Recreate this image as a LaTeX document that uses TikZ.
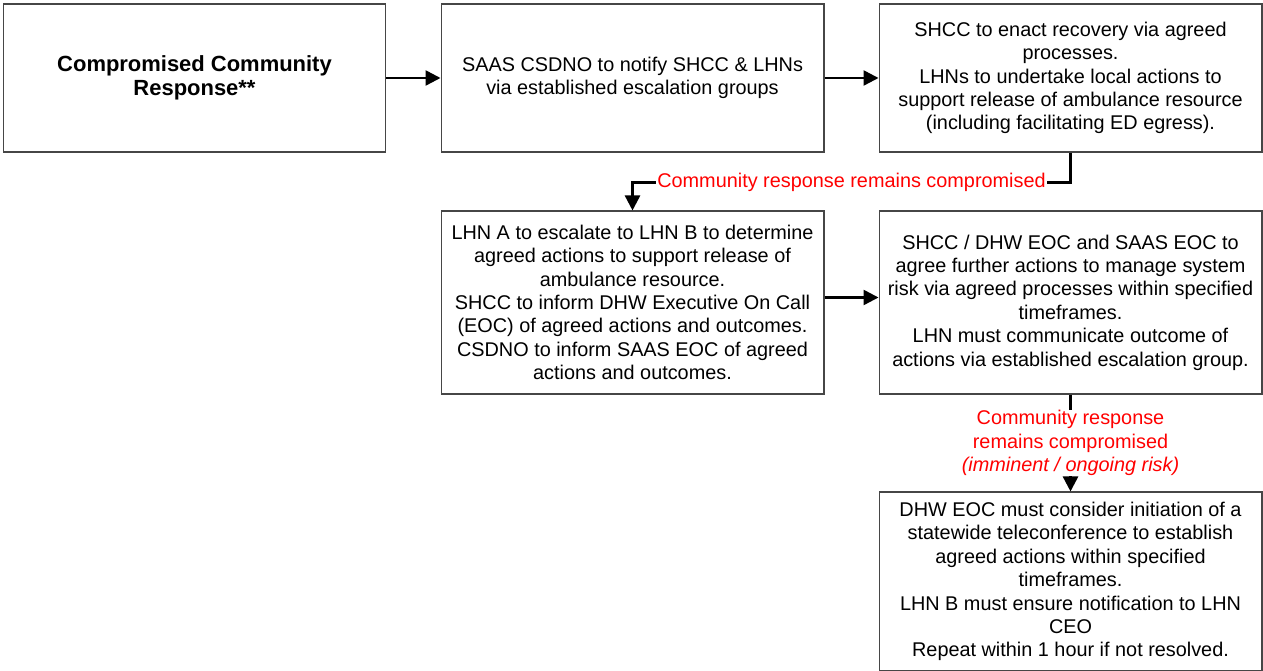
\documentclass[tikz,border=0pt]{standalone}
\usepackage{fontspec}
\setmainfont{Liberation Sans}
\usepackage{tikz}
\usetikzlibrary{arrows.meta}
\definecolor{boxgray}{RGB}{70,70,70}
\definecolor{alertred}{RGB}{255,0,0}

\begin{document}
\begin{tikzpicture}[x=0.02cm, y=-0.02cm,
    stepbox/.style={draw=boxgray, line width=0.6pt, minimum width=7.66cm, align=center,
                    font=\fontsize{11.3}{13.3}\selectfont},
    flow/.style={-{Triangle[length=0.3cm, width=0.3cm]}, line width=1.4pt, black},
    flowlabel/.style={fill=white, text=alertred, align=center, inner sep=1pt,
                      font=\fontsize{11.3}{13.3}\selectfont}]
    \useasboundingbox (0,0) rectangle (1263,671);

    % Top row
    \node[stepbox, minimum height=2.96cm, font=\bfseries\fontsize{12.5}{13.3}\selectfont] (compromised) at (194.5,78) {Compromised Community\\Response**};
    \node[stepbox, minimum height=2.96cm] (notify) at (632.5,78) {SAAS CSDNO to notify SHCC \& LHNs\\via established escalation groups};
    \node[stepbox, minimum height=2.96cm] (recovery) at (1070.5,78) {SHCC to enact recovery via agreed\\processes.\\LHNs to undertake local actions to\\support release of ambulance resource\\(including facilitating ED egress).};

    % Middle row
    \node[stepbox, minimum height=3.66cm] (escalate) at (632.5,302.5) {LHN A to escalate to LHN B to determine\\agreed actions to support release of\\ambulance resource.\\SHCC to inform DHW Executive On Call\\(EOC) of agreed actions and outcomes.\\CSDNO to inform SAAS EOC of agreed\\actions and outcomes.};
    \node[stepbox, minimum height=3.66cm] (systemrisk) at (1070.5,302.5) {SHCC / DHW EOC and SAAS EOC to\\agree further actions to manage system\\risk via agreed processes within specified\\timeframes.\\LHN must communicate outcome of\\actions via established escalation group.};

    % Bottom box
    \node[stepbox, minimum height=3.58cm] (teleconf) at (1070.5,581.5) {DHW EOC must consider initiation of a\\statewide teleconference to establish\\agreed actions within specified\\timeframes.\\LHN B must ensure notification to LHN\\CEO\\Repeat within 1 hour if not resolved.};

    % Arrows
    \draw[flow] (compromised) -- (notify);
    \draw[flow] (notify) -- (recovery);
    \draw[flow] (recovery.south) -- ++(0,30) -| node[pos=0.25, flowlabel] {Community response remains compromised} (escalate.north);
    \draw[flow] ([yshift=0.1cm]escalate.east) -- ([yshift=0.1cm]systemrisk.west);
    \draw[flow] (systemrisk) -- node[flowlabel, inner sep=0pt] {Community response\\remains compromised\\\textit{(imminent / ongoing risk)}} (teleconf);
\end{tikzpicture}
\end{document}
